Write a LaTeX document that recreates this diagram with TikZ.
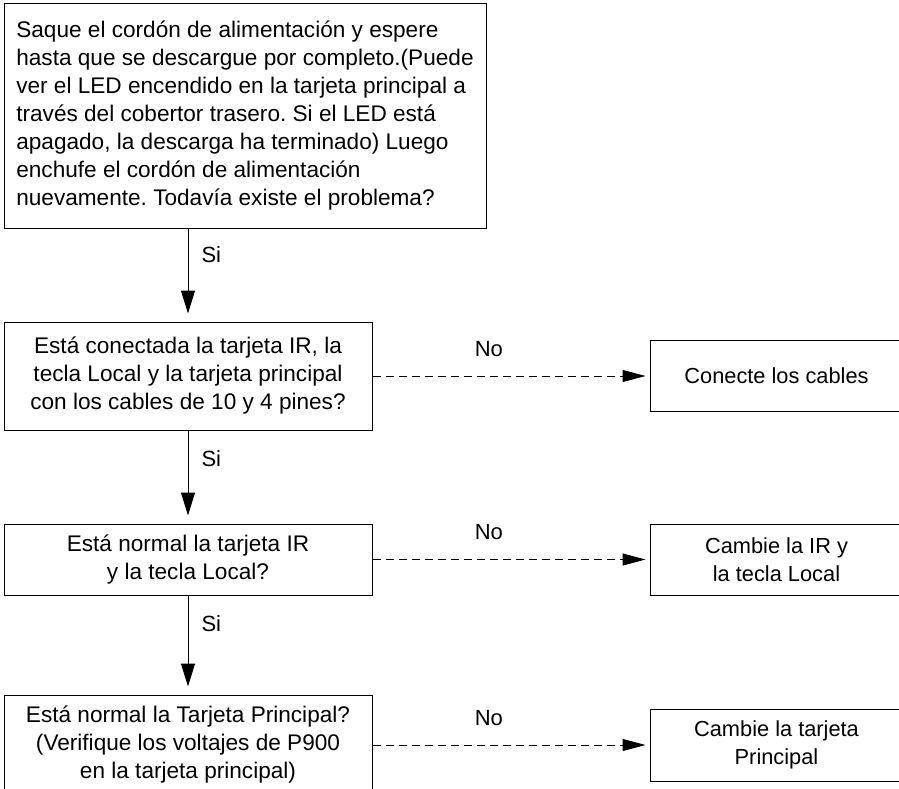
\documentclass[tikz,border=0pt]{standalone}
\usepackage{fontspec}
\setmainfont{Liberation Sans}
\usetikzlibrary{arrows.meta,positioning}
\frenchspacing

\begin{document}
\begin{tikzpicture}[
    x=1pt, y=-1pt,
    font=\fontsize{22}{28}\selectfont,
    box/.style={draw, line width=1pt, align=center, inner sep=0pt, font=\fontsize{22.6}{28}\selectfont},
    action/.style={box, minimum width=253pt, font=\fontsize{21.8}{28}\selectfont},
    yes/.style={-{Triangle[length=23pt,width=14pt]}, line width=1pt, shorten >=8pt},
    no/.style={-{Triangle[length=23pt,width=12pt]}, line width=1pt, dash pattern=on 8pt off 5pt, shorten >=4pt},
    lbl/.style={inner sep=0pt}
  ]
  \useasboundingbox (0,0) rectangle (899,789);

  % Questions
  \node[box, align=left, minimum width=482pt, minimum height=224pt] (q1) at (245,116)
    {Saque el cordón de alimentación y espere\\hasta que se descargue por completo.(Puede\\ver el LED encendido en la tarjeta principal a\\través del cobertor trasero. Si el LED está\\apagado, la descarga ha terminado) Luego\\enchufe el cordón de alimentación\\nuevamente. Todavía existe el problema?};
  \node[box, minimum width=368pt, minimum height=108pt, below=93pt of q1.south west, anchor=north west] (q2)
    {Está conectada la tarjeta IR, la\\tecla Local y la tarjeta principal\\con los cables de 10 y 4 pines?};
  \node[box, minimum width=368pt, minimum height=71pt, below=93pt of q2] (q3)
    {Está normal la tarjeta IR\\y la tecla Local?};
  \node[box, minimum width=368pt, minimum height=100pt, below=99pt of q3] (q4)
    {Está normal la Tarjeta Principal?\\(Verifique los voltajes de P900\\en la tarjeta principal)};

  % Actions
  \node[action, minimum height=71pt, right=277pt of q2] (a1) {Conecte los cables};
  \node[action, minimum height=71pt, right=277pt of q3] (a2) {Cambie la IR y\\la tecla Local};
  \node[action, minimum height=72pt, right=277pt of q4] (a3) {Cambie la tarjeta\\Principal};

  % Si
  \draw[yes] (q1.south -| q2.north) -- node[lbl, pos=0.28, right=13pt] {Si} (q2.north);
  \draw[yes] (q2) -- node[lbl, pos=0.3, right=13pt] {Si} (q3);
  \draw[yes] (q3) -- node[lbl, pos=0.28, right=13pt] {Si} (q4);

  % No
  \draw[no] (q2) -- node[lbl, pos=0.42, above=19pt] {No} (a1);
  \draw[no] (q3) -- node[lbl, pos=0.42, above=19pt] {No} (a2);
  \draw[no] (q4) -- node[lbl, pos=0.42, above=19pt] {No} (a3);
\end{tikzpicture}
\end{document}
